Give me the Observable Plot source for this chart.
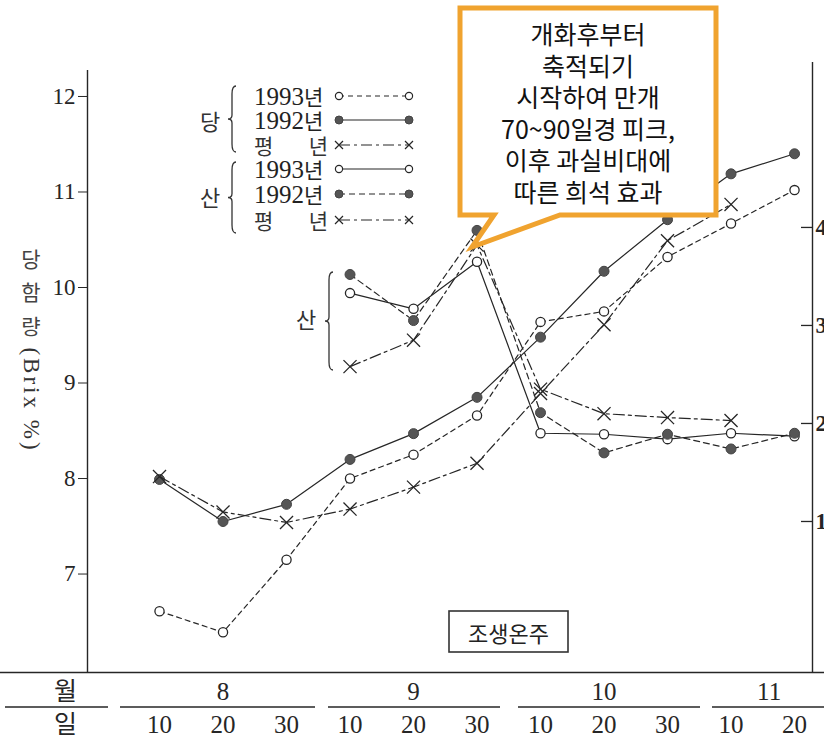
<!DOCTYPE html>
<html><head><meta charset="utf-8">
<script src="https://cdn.jsdelivr.net/npm/d3@7"></script>
<script src="https://cdn.jsdelivr.net/npm/@observablehq/plot@0.6"></script>
<style>
html,body{margin:0;padding:0;background:#fff;overflow:hidden;}
#chart{width:824px;height:739px;position:relative;}
</style></head><body><div id="chart"></div>
<script>
// ---- data ----
const dateIndex = [0,1,2,3,4,5,6,7,8,9,10];            // 8/10 ... 11/20
const dayLabels = ["10","20","30","10","20","30","10","20","30","10","20"];
const monthLabels = ["8","9","10","11"];
const monthCenters = [1, 4, 7, 9.6];
// 당 함량 (Brix %)
const sugar1993   = [6.61, 6.39, 7.15, 8.00, 8.25, 8.66, 9.64, 9.75, 10.32, 10.67, 11.02];
const sugar1992   = [7.99, 7.55, 7.73, 8.20, 8.47, 8.85, 9.48, 10.17, 10.71, 11.19, 11.40];
const sugarNormal = [8.02, 7.65, 7.54, 7.68, 7.91, 8.16, 8.89, 9.61, 10.49, 10.87, null];
// 산 함량 (right axis)
const acid1993   = [null, null, null, 3.33, 3.17, 3.65, 1.90, 1.89, 1.84, 1.90, 1.87];
const acid1992   = [null, null, null, 3.52, 3.05, 3.97, 2.11, 1.70, 1.89, 1.74, 1.90];
const acidNormal = [null, null, null, 2.58, 2.85, 3.82, 2.35, 2.10, 2.06, 2.03, null];
const leftTicks = [7,8,9,10,11,12];
const rightTicks = [1,2,3,4];
const legendNames = ["1993년","1992년","평  년"];
const calloutLines = ["개화후부터","축적되기","시작하여 만개","70~90일경 피크,","이후 과실비대에","따른 희석 효과"];
const cultivar = "조생온주";

// ---- layout ----
const W=824,H=739, mL=87,mR=12,mT=70,mB=69;
const xDomain=[-1.134,10.283], yDomain=[5.99,12.272];
const invx = px => xDomain[0] + (px-mL)/(W-mR-mL)*(xDomain[1]-xDomain[0]);
const invy = py => yDomain[0] + (H-mB-py)/(H-mB-mT)*(yDomain[1]-yDomain[0]);
// right (acid) axis aligned to the left scale
const ACID0 = 6.524, ACIDK = 1.0262;
const acidY = a => ACID0 + ACIDK*a;

const INK="#262626", DOT="#555";
const pts = (arr) => dateIndex.filter(i=>arr[i]!=null).map(i=>({i, v:arr[i]}));
const DASH = {s93:"5,4", s92:null, sN:"11,4,3,4", a93:null, a92:"6,4", aN:"11,4,3,4"};

function seriesMarks(arr, dash, kind, isAcid){
  const data = pts(arr);
  const y = isAcid ? (d=>acidY(d.v)) : "v";
  const m = [Plot.line(data,{x:"i", y, stroke:INK, strokeWidth:1.2, strokeDasharray:dash||undefined})];
  if (kind==="open") m.push(Plot.dot(data,{x:"i", y, r:4.6, fill:"white", stroke:INK, strokeWidth:1.3}));
  else if (kind==="fill") m.push(Plot.dot(data,{x:"i", y, r:5, fill:DOT, stroke:"#444", strokeWidth:1}));
  else m.push(Plot.dot(data,{x:"i", y, r:6, symbol:"times", fill:"none", stroke:INK, strokeWidth:1.3}));
  return m;
}

const dayTicks = [-1.48, ...dateIndex];
const dayText = new Map(dayTicks.map((t,k)=>[t, k===0 ? "일" : dayLabels[k-1]]));
const monTicks = [-1.48, ...monthCenters];
const monText = new Map(monTicks.map((t,k)=>[t, k===0 ? "월" : monthLabels[k-1]]));

const serif = "'Liberation Serif','Noto Sans CJK KR',serif";

const plot = Plot.plot({
  width:W, height:H, marginLeft:mL, marginRight:mR, marginTop:mT, marginBottom:mB,
  style:{fontFamily:serif, background:"white", color:INK, overflow:"visible"},
  x:{domain:xDomain, label:null},
  y:{domain:yDomain, label:null},
  marks:[
    // axis lines & baseline
    Plot.ruleX([xDomain[0]], {y1:invy(672), y2:invy(70), stroke:INK, strokeWidth:1.4}),
    Plot.ruleX([xDomain[1]], {y1:invy(672), y2:invy(62), stroke:INK, strokeWidth:1.4}),
    Plot.ruleY([invy(672)], {x1:invx(0), x2:invx(824), stroke:INK, strokeWidth:1.4}),
    Plot.ruleY(rightTicks.map(acidY), {x1:invx(801), x2:xDomain[1], stroke:INK, strokeWidth:1.3}),
    Plot.axisY({anchor:"left", ticks:leftTicks, tickFormat:d=>String(d), tickSize:9, tickPadding:3, fontSize:23, label:null, stroke:INK}),
    Plot.axisY({anchor:"right", ticks:rightTicks.map(acidY), tickFormat:v=>String(Math.round((v-ACID0)/ACIDK)), tickSize:0, tickPadding:3, fontSize:23, fontWeight:"bold", label:null}),
    Plot.axisX({anchor:"bottom", ticks:dayTicks, tickFormat:d=>dayText.get(d), tickSize:0, tickPadding:45, fontSize:25, label:null}),
    Plot.axisX({anchor:"bottom", ticks:monTicks, tickFormat:d=>monText.get(d), tickSize:0, tickPadding:12, fontSize:25, label:null}),
    ...seriesMarks(sugar1993, DASH.s93, "open", false),
    ...seriesMarks(sugar1992, DASH.s92, "fill", false),
    ...seriesMarks(sugarNormal, DASH.sN, "times", false),
    ...seriesMarks(acid1993, DASH.a93, "open", true),
    ...seriesMarks(acid1992, DASH.a92, "fill", true),
    ...seriesMarks(acidNormal, DASH.aN, "times", true)
  ]
});
document.getElementById("chart").appendChild(plot);

// ---- annotations ----
const svg = d3.select(plot);
const g = svg.append("g").attr("text-anchor","start");
const kr = "'Noto Sans CJK KR',sans-serif";

// bottom table separator lines
[[5,108],[120,315],[328,500],[518,700],[712,824]].forEach(([a,b])=>{
  g.append("line").attr("x1",a).attr("x2",b).attr("y1",707).attr("y2",707).attr("stroke",INK).attr("stroke-width",1.3);
});

// y axis title
[["당",258],["함",291],["량",325]].forEach(([t,y])=>{
  g.append("text").attr("x",31).attr("y",y).attr("text-anchor","middle").attr("dominant-baseline","central")
   .attr("font-family",kr).attr("font-size",21).attr("fill","#444").text(t);
});
g.append("text").attr("transform","translate(31,400) rotate(90)").attr("text-anchor","middle").attr("dominant-baseline","central")
 .attr("font-family",serif).attr("font-size",23).attr("letter-spacing",3).attr("fill","#333").text("(Brix %)");

function brace(x, y1, y2, w){
  const ym=(y1+y2)/2, h=w/2;
  return `M${x+w},${y1} Q${x+h},${y1} ${x+h},${y1+w} L${x+h},${ym-h} Q${x+h},${ym} ${x},${ym} Q${x+h},${ym} ${x+h},${ym+h} L${x+h},${y2-w} Q${x+h},${y2} ${x+w},${y2}`;
}
function marker(sel, kind, x, y){
  if (kind==="open") sel.append("circle").attr("cx",x).attr("cy",y).attr("r",3.6).attr("fill","white").attr("stroke",INK).attr("stroke-width",1.2);
  else if (kind==="fill") sel.append("circle").attr("cx",x).attr("cy",y).attr("r",4).attr("fill",DOT).attr("stroke","#444");
  else sel.append("path").attr("d",`M${x-4},${y-4}L${x+4},${y+4}M${x-4},${y+4}L${x+4},${y-4}`).attr("stroke",INK).attr("stroke-width",1.2);
}
// legend
const legRows = [
  {y:96, name:0, dash:DASH.s93, kind:"open"},
  {y:120, name:1, dash:DASH.s92, kind:"fill"},
  {y:145, name:2, dash:DASH.sN, kind:"times"},
  {y:169, name:0, dash:DASH.a93, kind:"open"},
  {y:194, name:1, dash:DASH.a92, kind:"fill"},
  {y:220, name:2, dash:DASH.aN, kind:"times"}
];
legRows.forEach(r=>{
  const nm = legendNames[r.name];
  if (r.name===2){
    g.append("text").attr("x",254).attr("y",r.y).attr("text-anchor","start").attr("dominant-baseline","central").attr("font-family",kr).attr("font-size",21).attr("fill","#333").text(nm.charAt(0));
    g.append("text").attr("x",328).attr("y",r.y).attr("text-anchor","end").attr("dominant-baseline","central").attr("font-family",kr).attr("font-size",21).attr("fill","#333").text(nm.charAt(nm.length-1));
  } else {
    const t = g.append("text").attr("x",254).attr("y",r.y).attr("text-anchor","start").attr("dominant-baseline","central").attr("fill","#222");
    t.append("tspan").attr("font-family",serif).attr("font-size",25).text(nm.slice(0,4));
    t.append("tspan").attr("font-family",kr).attr("font-size",21).text(nm.slice(4));
  }
  g.append("line").attr("x1",339).attr("x2",409).attr("y1",r.y).attr("y2",r.y).attr("stroke",INK).attr("stroke-width",1.1)
   .attr("stroke-dasharray", r.dash||null);
  marker(g, r.kind, 339, r.y); marker(g, r.kind, 409, r.y);
});
[[brace(228,86,152,8),"당",210,120],[brace(228,162,233,8),"산",210,196],[brace(325,272,370,8),"산",306,318]].forEach(([d,t,x,y])=>{
  g.append("path").attr("d",d).attr("fill","none").attr("stroke","#333").attr("stroke-width",1.3);
  g.append("text").attr("x",x).attr("y",y).attr("text-anchor","middle").attr("dominant-baseline","central")
   .attr("font-family",kr).attr("font-size",22).attr("fill","#333").text(t);
});

// cultivar box
g.append("rect").attr("x",449).attr("y",611).attr("width",119).attr("height",41).attr("fill","white").attr("stroke","#333").attr("stroke-width",1.6);
g.append("text").attr("x",508.5).attr("y",632).attr("text-anchor","middle").attr("dominant-baseline","central")
 .attr("font-family",kr).attr("font-size",22).attr("fill","#222").text(cultivar);

// callout
g.append("path").attr("d","M460,8 H716 V215 H560 L472,247 L494,215 H460 Z")
 .attr("fill","white").attr("stroke","#F0A32F").attr("stroke-width",5).attr("stroke-linejoin","miter");
calloutLines.forEach((t,k)=>{
  g.append("text").attr("x",588).attr("y",33+k*31.6).attr("text-anchor","middle").attr("dominant-baseline","central")
   .attr("font-family",kr).attr("font-size",25).attr("fill","#111").text(t);
});
</script></body></html>
